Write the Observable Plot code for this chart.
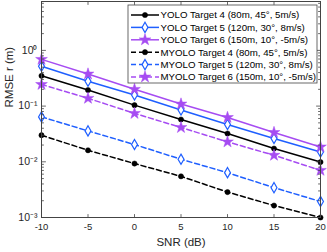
<!DOCTYPE html>
<html>
<head>
<meta charset="utf-8">
<script src="https://cdn.jsdelivr.net/npm/d3@7"></script>
<script src="https://cdn.jsdelivr.net/npm/@observablehq/plot@0.6"></script>
<style>
  html, body { margin: 0; padding: 0; background: #fff; }
  #chart { width: 327px; height: 252px; }
</style>
</head>
<body>
<div id="chart"></div>
<script>
// ---- data ----
const snr = [-10, -5, 0, 5, 10, 15, 20];
const yolo4  = [0.35, 0.194, 0.104, 0.0575, 0.0322, 0.0173, 0.0099];
const yolo5  = [0.52, 0.28, 0.158, 0.085, 0.0468, 0.0262, 0.0150];
const yolo6  = [0.69, 0.377, 0.20, 0.109, 0.0625, 0.0336, 0.0185];
const myolo4 = [0.030, 0.0161, 0.0093, 0.00548, 0.00286, 0.00164, 0.00100];
const myolo5 = [0.064, 0.0359, 0.0204, 0.0111, 0.00638, 0.00343, 0.00194];
const myolo6 = [0.245, 0.138, 0.074, 0.0413, 0.0228, 0.0131, 0.00703];
const seriesNames = [
  "YOLO Target 4 (80m, 45°, 5m/s)",
  "YOLO Target 5 (120m, 30°, 8m/s)",
  "YOLO Target 6 (150m, 10°, -5m/s)",
  "MYOLO Target 4 (80m, 45°, 5m/s)",
  "MYOLO Target 5 (120m, 30°, 8m/s)",
  "MYOLO Target 6 (150m, 10°, -5m/s)"
];
const yMajorTicks = [1e-3, 1e-2, 1e-1, 1];
const yTickLabels = ["10\u207B\u00B3", "10\u207B\u00B2", "10\u207B\u00B9", "10\u2070"];
const yTop = 7.55;

// ---- styles ----
const colors = ["#000000", "#1f5fff", "#a64cf2", "#000000", "#1f5fff", "#a64cf2"];
const symbols = ["circle", "diamond", "star", "circle", "diamond", "star"];
const dashed = [false, false, false, true, true, true];
const symR = {circle: 2.6, diamond: 3.1, star: 3.7};
const symFill = (s, c) => s === "diamond" ? "#fff" : c;

const valuesList = [yolo4, yolo5, yolo6, myolo4, myolo5, myolo6];
const rows = valuesList.flatMap((vals, k) => snr.map((x, i) => ({
  x, y: vals[i], name: seriesNames[k], color: colors[k], symbol: symbols[k], dashed: dashed[k]
})));

// minor ticks
const minorTicks = [];
for (const d of [1e-3, 1e-2, 1e-1, 1]) for (let m = 2; m <= 9; m++) if (m * d <= yTop) minorTicks.push(m * d);

const tickShape = {draw(ctx, l) { ctx.moveTo(0, 0); ctx.lineTo(0, -l); }};
const axisColor = "#444";
const tickOpts = (extra) => ({shape: tickShape, anchor: "start", stroke: axisColor, strokeWidth: 0.8, ...extra});

const font = "'Liberation Sans', Arial, Helvetica, sans-serif";

const marks = [
  Plot.line(rows.filter(d => !d.dashed), {x: "x", y: "y", z: "name", stroke: "color", strokeWidth: 1.5}),
  Plot.line(rows.filter(d => d.dashed), {x: "x", y: "y", z: "name", stroke: "color", strokeWidth: 1.5, strokeDasharray: "5,3"}),
  ...["circle", "diamond", "star"].map(s => Plot.dot(rows.filter(d => d.symbol === s), {
    x: "x", y: "y", symbol: s, r: symR[s],
    fill: s === "diamond" ? "#fff" : "color", stroke: "color", strokeWidth: s === "diamond" ? 1.2 : 0.5
  })),
  // ticks (inward, on all four sides)
  Plot.vector(yMajorTicks, tickOpts({y: d => d, frameAnchor: "left", rotate: 90, length: 4})),
  Plot.vector(yMajorTicks, tickOpts({y: d => d, frameAnchor: "right", rotate: -90, length: 4})),
  Plot.vector(minorTicks, tickOpts({y: d => d, frameAnchor: "left", rotate: 90, length: 2})),
  Plot.vector(minorTicks, tickOpts({y: d => d, frameAnchor: "right", rotate: -90, length: 2})),
  Plot.vector(snr, tickOpts({x: d => d, frameAnchor: "bottom", rotate: 0, length: 3})),
  Plot.vector(snr, tickOpts({x: d => d, frameAnchor: "top", rotate: 180, length: 3})),
  Plot.frame({stroke: axisColor, strokeWidth: 1}),
  Plot.axisX({ticks: snr, tickSize: 0, tickPadding: 6, label: null, fontSize: 9.5, tickFormat: d => String(d)}),
  Plot.axisY({ticks: yMajorTicks, tickSize: 0, tickPadding: 4, label: null, fontSize: 10.5,
    tickFormat: d => yTickLabels[yMajorTicks.indexOf(d)]}),
  Plot.text(["SNR (dB)"], {frameAnchor: "bottom", dy: 28, text: d => d, fontSize: 11.5, fill: "#262626"}),
  Plot.text(["RMSE r (m)"], {frameAnchor: "left", dx: -32, dy: -2, rotate: -90, text: d => d, fontSize: 11.5, fill: "#262626"})
];

const chart = Plot.plot({
  width: 327, height: 252,
  marginLeft: 41, marginRight: 7, marginTop: 1, marginBottom: 35,
  style: {fontFamily: font, fontSize: "9px", color: "#262626", background: "#fff"},
  x: {domain: [-10, 20]},
  y: {type: "log", domain: [1e-3, yTop]},
  color: {type: "identity"},
  marks
});
document.getElementById("chart").appendChild(chart);

// ---- legend ----
const svg = d3.select(chart);
const lg = svg.append("g").attr("font-family", font).attr("font-size", 9.7).attr("text-anchor", "start");
lg.append("rect").attr("x", 128).attr("y", 5).attr("width", 189).attr("height", 78)
  .attr("fill", "#fff").attr("stroke", axisColor).attr("stroke-width", 0.8);
seriesNames.forEach((name, i) => {
  const y = 15 + i * 12.4;
  lg.append("line").attr("x1", 131).attr("x2", 159).attr("y1", y).attr("y2", y)
    .attr("stroke", colors[i]).attr("stroke-width", 1.5)
    .attr("stroke-dasharray", dashed[i] ? "5,3" : null);
  const sym = {circle: d3.symbolCircle, diamond: d3.symbolDiamond, star: d3.symbolStar}[symbols[i]];
  const r = symR[symbols[i]];
  lg.append("path").attr("d", d3.symbol(sym, Math.PI * r * r)())
    .attr("transform", `translate(145,${y})`)
    .attr("fill", symFill(symbols[i], colors[i])).attr("stroke", colors[i])
    .attr("stroke-width", symbols[i] === "diamond" ? 1.2 : 0.5);
  lg.append("text").attr("x", 160.5).attr("y", y).attr("dy", "0.35em")
    .attr("text-anchor", "start").attr("fill", "#000").text(name);
});
</script>
</body>
</html>
